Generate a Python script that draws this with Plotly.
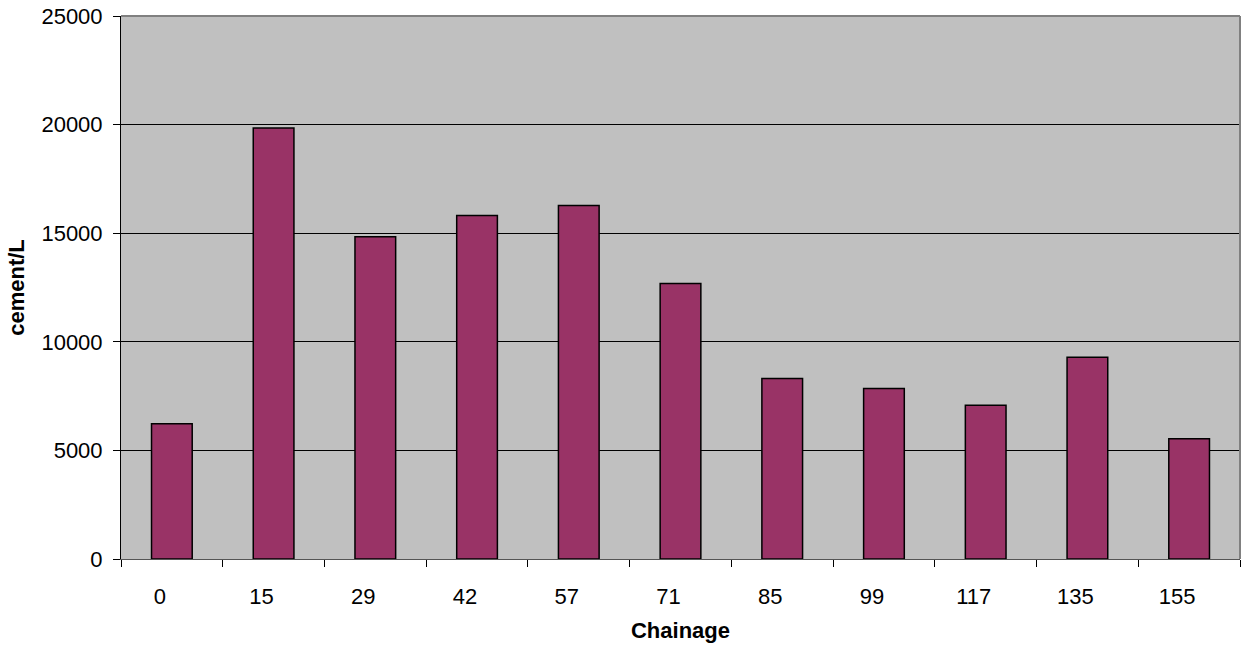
import plotly.graph_objects as go

chainage = ["0", "15", "29", "42", "57", "71", "85", "99", "117", "135", "155"]
cement_per_l = [6230, 19840, 14840, 15820, 16280, 12680, 8310, 7850, 7080, 9290, 5540]

fig = go.Figure(
    go.Bar(
        x=chainage,
        y=cement_per_l,
        marker=dict(color="#993366", line=dict(color="#000000", width=1.5)),
    )
)

fig.update_layout(
    width=1250,
    height=650,
    margin=dict(l=121, r=10, t=16, b=91, autoexpand=False),
    paper_bgcolor="#FFFFFF",
    plot_bgcolor="#C0C0C0",
    bargap=0.6,
    showlegend=False,
    font=dict(family="Liberation Sans, Arial, sans-serif", size=22, color="#000000"),
    xaxis=dict(
        title=dict(text="<b>Chainage</b>", font=dict(size=22), standoff=14),
        type="category",
        automargin=False,
        showgrid=False,
        showline=True,
        linecolor="#555555",
        linewidth=1,
        ticks="outside",
        tickson="boundaries",
        ticklen=7,
        tickcolor="#000000",
        tickfont=dict(size=22),
        ticklabelstandoff=18,
        ticklabelshift=-12,
    ),
    yaxis=dict(
        title=dict(text="<b>cement/L</b>", font=dict(size=22), standoff=10),
        automargin=False,
        range=[0, 25000],
        dtick=5000,
        tickformat="d",
        showgrid=True,
        gridcolor="#000000",
        gridwidth=1,
        zeroline=False,
        showline=True,
        linecolor="#000000",
        linewidth=1,
        ticks="outside",
        ticklen=7,
        tickcolor="#000000",
        tickfont=dict(size=22),
        ticklabelstandoff=6,
    ),
    shapes=[
        dict(type="line", xref="paper", yref="paper", x0=0, x1=1, y0=1, y1=1,
             line=dict(color="#808080", width=2)),
        dict(type="line", xref="paper", yref="paper", x0=1, x1=1, y0=0, y1=1,
             line=dict(color="#808080", width=2)),
    ],
)

fig.write_html("out.html")
